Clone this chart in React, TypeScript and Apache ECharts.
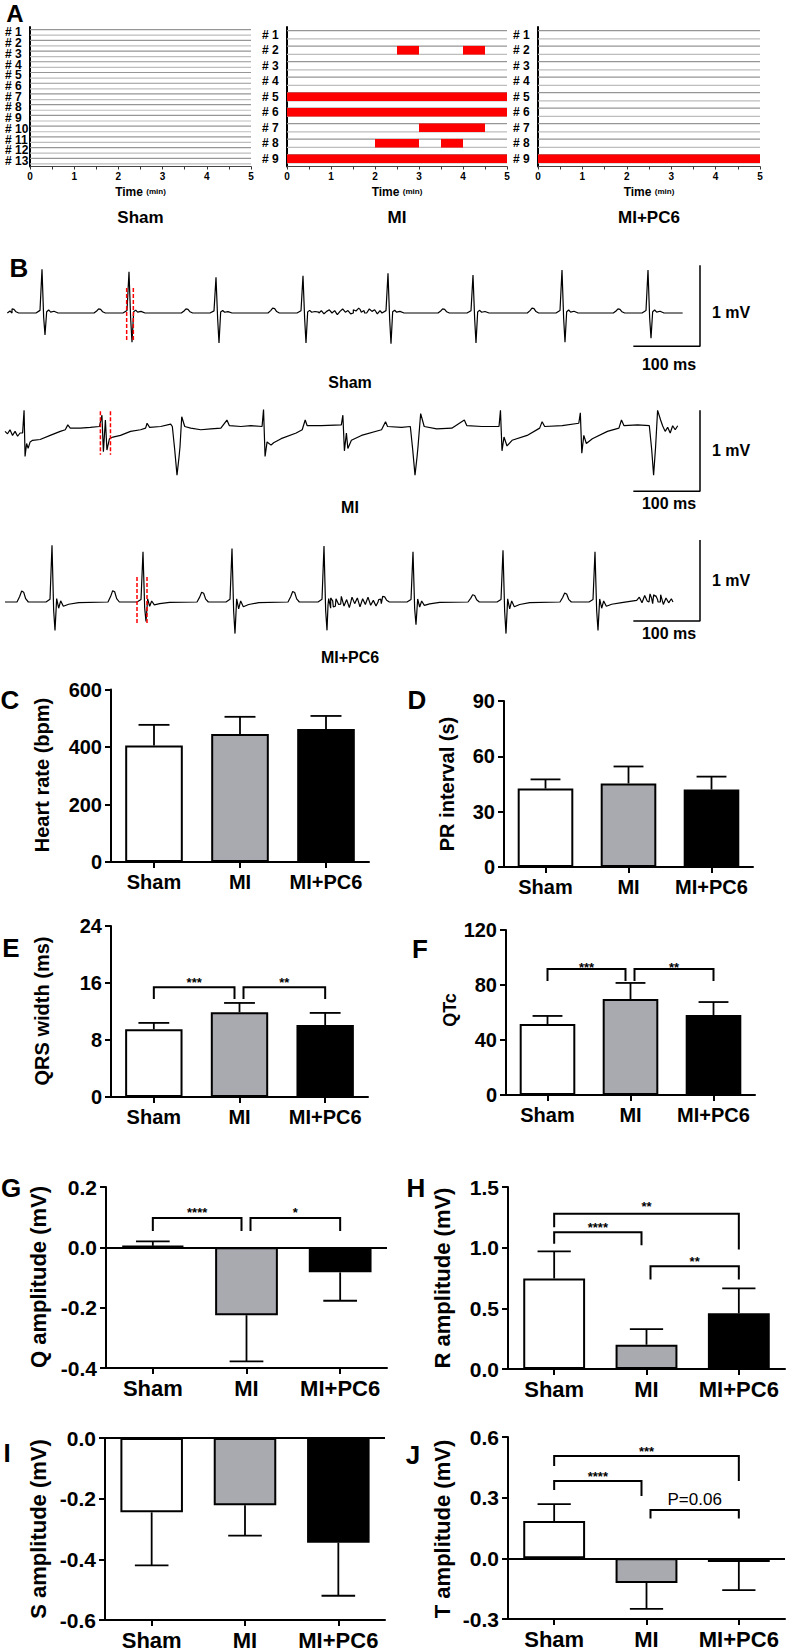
import React, { useEffect, useRef } from "react";
import * as echarts from "echarts";

const FONT = "'Liberation Sans', Arial, Helvetica, sans-serif";
const W = 787;
const H = 1651;

// ---------------- Panel A : arrhythmia raster ----------------
const SHAM_ROWS = ["# 1", "# 2", "# 3", "# 4", "# 5", "# 6", "# 7", "# 8", "# 9", "# 10", "# 11", "# 12", "# 13"];
const MI_ROWS = ["# 1", "# 2", "# 3", "# 4", "# 5", "# 6", "# 7", "# 8", "# 9"];
const PC6_ROWS = ["# 1", "# 2", "# 3", "# 4", "# 5", "# 6", "# 7", "# 8", "# 9"];
const TIME_MAX = 5;
const TIME_STEP = 0.5;
// [start (min), end (min), row index]
const SHAM_EVENTS: number[][] = [];
const MI_EVENTS = [
  [2.5, 3, 1], [4, 4.5, 1], [0, 5, 4], [0, 5, 5], [3, 4.5, 6], [2, 3, 7], [3.5, 4, 7], [0, 5, 8],
];
const PC6_EVENTS = [[0, 5, 8]];
const GROUPS = ["Sham", "MI", "MI+PC6"];

// ---------------- Panel B : ECG traces (ms, mV) ----------------
const SHAM_BEATS = [63, 193.5, 324, 454.5, 582, 709.5, 843, 972];
const SHAM_R = [0.54, 0.51, 0.44, 0.46, 0.49, 0.47, 0.53, 0.53];
const SHAM_S = [0.27, 0.36, 0.37, 0.37, 0.38, 0.37, 0.36, 0.31];
const SHAM_P = [20, 150, 281, 411, 539, 666, 800, 929];
const SHAM_P_AMP = [0.05, 0.05, 0.05, 0.06, 0.05, 0.05, 0.06, 0.05];
const SHAM_QRS = [
  [-9, 0, 0], [-3, 0.06, 0], [0, 1, 0], [2.5, 0, 0.2], [4.5, 0, 1], [7, 0.03, 0], [10, 0.07, 0], [13, 0.02, 0], [18, 0.04, 0], [24, 0, 0],
];
const SHAM_NOISE = [
  [478, 4, [0.01, 0.03, -0.01, 0.02, 0.04, 0.0, 0.03, -0.02, 0.02, 0.05, 0.01, 0.03, -0.01, 0.04, 0.02, 0.06, 0.01, 0.03, 0.0, 0.05, 0.02, 0.04, -0.01, 0.03]],
];

const PC6_BEATS = [78, 214.5, 348, 486, 619.5, 754.5, 892.5];
const PC6_R = [0.7, 0.62, 0.66, 0.69, 0.62, 0.64, 0.62];
const PC6_S = [0.35, 0.24, 0.39, 0.35, 0.28, 0.39, 0.35];
const PC6_P = [34.5, 171, 304.5, 441, 576, 711, 849, 982.5];
const PC6_P_AMP = [0.135, 0.14, 0.12, 0.13, 0.07, 0.09, 0.11, 0.09];
const PC6_QRS = [
  [-9, 0, 0], [-3, 0.05, 0], [0, 1, 0], [2.5, 0, 0.3], [4.5, 0, 1], [7, 0.06, 0], [10, 0, 0.22], [13, 0.02, 0], [17, 0, 0.15], [25, 0, 0.08], [40, 0, 0.02],
];
const PC6_NOISE = [
  [492, 4, [-0.04, 0.05, -0.06, 0.04, -0.03, 0.07, -0.05, 0.03, -0.07, 0.06, -0.02, 0.05, -0.06, 0.04, -0.03, 0.06, -0.04, 0.02, -0.05, 0.03, -0.02]],
  [955, 4, [0.02, 0.06, -0.01, 0.08, 0.01, 0.1, -0.02, 0.07, 0.0, 0.09, -0.03, 0.05, -0.01, 0.04]],
];
const P_SHAPE = [[-9, 0], [-5, 0.5], [-2, 1], [1, 0.9], [4, 0.3], [8, 0]];

const MI_TRACE = [
  [7.5, 0.02], [11.3, -0.01], [15, 0.04], [18.8, -0.03], [22.6, 0.02], [26.4, -0.04], [30.1, 0.0], [33.9, 0.0],
  [36.1, 0.28], [37.6, -0.29], [39.9, -0.13], [42.2, -0.19], [45.2, -0.11], [48.9, -0.09], [60.2, -0.08], [75.3, -0.03],
  [90.4, 0.02], [97.9, 0.04], [101.7, 0.1], [105.4, 0.06], [120.5, 0.06], [135.5, 0.07], [149.1, 0.08],
  [152.9, 0.22], [155.1, -0.23], [158.1, 0.16], [160.4, -0.21], [164.2, -0.07], [169.4, -0.05], [180.7, -0.03],
  [195.8, 0.02], [210.8, 0.04], [218.4, 0.06], [220.6, 0.12], [224.4, 0.07], [241, 0.08], [256, 0.11], [258.5, 0.08],
  [262, -0.2], [265.5, -0.52], [268.5, -0.3], [270, -0.17], [272.6, 0.2], [277.1, 0.08], [286.1, 0.06], [301.2, 0.04],
  [316.3, 0.05], [331.3, 0.06], [340.4, 0.16], [344.1, 0.09], [361.4, 0.08], [376.5, 0.09], [393.1, 0.08],
  [395.3, 0.29], [397.6, -0.29], [400.6, -0.11], [406.6, -0.15], [410.4, -0.12], [421.7, -0.07], [444.3, 0.0],
  [453.3, 0.04], [457.8, 0.16], [460.8, 0.09], [481.9, 0.09], [512, 0.1],
  [514.3, 0.22], [516.6, -0.22], [519.6, 0.0], [521.8, -0.19], [527.1, -0.09], [542.2, -0.03], [572.3, 0.04],
  [578.3, 0.14], [581.3, 0.08], [602.4, 0.07], [615.5, 0.08],
  [619, -0.2], [622.5, -0.52], [625.5, -0.3], [627, -0.17], [631, 0.24], [636.3, 0.08], [655.1, 0.05], [677.7, 0.06],
  [696.5, 0.16], [700.3, 0.09], [722.9, 0.08], [748.5, 0.08],
  [750.7, 0.28], [753, -0.22], [756, -0.05], [760.5, -0.16], [768.1, -0.09], [790.7, -0.03], [809.5, 0.06],
  [813.2, 0.14], [817, 0.08], [843.4, 0.09], [868.2, 0.12],
  [870.5, 0.25], [872.7, -0.25], [875.7, -0.03], [879.5, -0.13], [888.5, -0.07], [911.1, 0.02], [928.4, 0.06],
  [932.2, 0.16], [936, 0.09], [956.3, 0.1], [974, 0.09],
  [977.5, -0.2], [980.4, -0.52], [983.4, -0.17], [986.4, 0.28], [990.9, 0.16], [993.9, 0.09], [997.7, 0.02],
  [1001.5, 0.07], [1005.3, 0.0], [1009, 0.09], [1012.8, 0.04], [1016.6, 0.09],
];

// highlighted QRS windows [t0, t1, top mV, bottom mV]
const SHAM_QRS_WINDOW = [190, 200, 0.31, -0.35];
const MI_QRS_WINDOW = [150.6, 165.7, 0.27, -0.27];
const PC6_QRS_WINDOW = [205.5, 220.5, 0.31, -0.26];
const SCALE_MS = 100;
const SCALE_MV = 1;

// ---------------- Panels C-J : group means and SEM ----------------
const HEART_RATE = [405, 445, 463];
const HEART_RATE_SEM = [72, 60, 45];
const PR_INTERVAL = [42.5, 45.3, 42];
const PR_INTERVAL_SEM = [5, 9.2, 7];
const QRS_WIDTH = [9.5, 11.9, 10.1];
const QRS_WIDTH_SEM = [0.9, 1.3, 1.7];
const QTC = [51.6, 69.8, 58.2];
const QTC_SEM = [5.9, 11.7, 9.4];
const Q_AMP = [0.005, -0.225, -0.083];
const Q_AMP_SEM = [0.015, 0.153, 0.094];
const R_AMP = [0.746, 0.2, 0.459];
const R_AMP_SEM = [0.224, 0.128, 0.205];
const S_AMP = [-0.245, -0.222, -0.345];
const S_AMP_SEM = [0.175, 0.1, 0.175];
const T_AMP = [0.184, -0.122, -0.018];
const T_AMP_SEM = [0.084, 0.128, 0.139];

// significance brackets: from group a to group b, bar height y, drop ends ya / yb, label, label height
const QRS_SIG = [
  { a: 0, b: 1, y: 15.4, ya: 13.75, yb: 13.75, text: "***", ty: 16.6 },
  { a: 1, b: 2, y: 15.4, ya: 13.75, yb: 13.75, text: "**", ty: 16.6 },
];
const QTC_SIG = [
  { a: 0, b: 1, y: 91.6, ya: 82.9, yb: 82.9, text: "***", ty: 96 },
  { a: 1, b: 2, y: 91.6, ya: 82.9, yb: 82.9, text: "**", ty: 96 },
];
const Q_SIG = [
  { a: 0, b: 1, y: 0.097, ya: 0.054, yb: 0.054, text: "****", ty: 0.13 },
  { a: 1, b: 2, y: 0.097, ya: 0.054, yb: 0.054, text: "*", ty: 0.13 },
];
const R_SIG = [
  { a: 0, b: 2, y: 1.279, ya: 1.169, yb: 0.984, text: "**", ty: 1.374 },
  { a: 0, b: 1, y: 1.128, ya: 1.033, yb: 1.019, text: "****", ty: 1.197 },
  { a: 1, b: 2, y: 0.847, ya: 0.738, yb: 0.738, text: "**", ty: 0.918 },
];
const T_SIG = [
  { a: 0, b: 2, y: 0.506, ya: 0.456, yb: 0.382, text: "***", ty: 0.548 },
  { a: 0, b: 1, y: 0.382, ya: 0.338, yb: 0.308, text: "****", ty: 0.424 },
  { a: 1, b: 2, y: 0.239, ya: 0.197, yb: 0.197, text: "P=0.06", ty: 0.29 },
];

const BAR_COLORS = ["#ffffff", "#a9a9b0", "#000000"];

// ---------------- layout ----------------
const PX_PER_MS = 2 / 3;
const PX_PER_MV = 81;
const TRACE_MS_MAX = 1100;
const SCALE_X = 1050;

function composeTrace(beats: number[], r: number[], s: number[], qrs: number[][], p: number[], pAmp: number[], noise: any[], start: number, end: number) {
  const pts: number[][] = [[start, 0], [end, 0]];
  beats.forEach((t, i) => qrs.forEach(([dt, a, b]) => pts.push([t + dt, a * r[i] - b * s[i]])));
  p.forEach((t, i) => P_SHAPE.forEach(([dt, f]) => pts.push([t + dt, f * pAmp[i]])));
  noise.forEach(([t0, step, vals]: any) => vals.forEach((v: number, k: number) => pts.push([t0 + k * step, v])));
  pts.sort((u, v) => u[0] - v[0]);
  return pts;
}

function txt(x: number, y: number, text: string, font: string, align = "center", rotation = 0, fill = "#000") {
  return {
    type: "text",
    x,
    y,
    rotation,
    silent: true,
    style: { text, font, fill, align, textAlign: align, verticalAlign: "middle", textVerticalAlign: "middle" },
  };
}

function buildOption() {
  const opt: any = {
    animation: false,
    backgroundColor: "#ffffff",
    grid: [],
    xAxis: [],
    yAxis: [],
    series: [],
    graphic: { elements: [] as any[] },
  };
  const G = opt.graphic.elements;

  // ---------- Panel A ----------
  const rowLines = (params: any, api: any) => {
    const row = api.value(1);
    const a = api.coord([0, row]);
    const b = api.coord([TIME_MAX, row]);
    const band = api.size([0, 1])[1];
    const off = band * 0.26;
    return {
      type: "group",
      children: [
        { type: "line", shape: { x1: a[0], y1: a[1] - off, x2: b[0], y2: b[1] - off }, style: { stroke: "#969696", lineWidth: 1.2 } },
        { type: "line", shape: { x1: a[0], y1: a[1] + off, x2: b[0], y2: b[1] + off }, style: { stroke: "#bdbdbd", lineWidth: 1.2 } },
      ],
    };
  };
  const eventRect = (params: any, api: any) => {
    const s = api.value(0);
    const e = api.value(1);
    const row = api.value(2);
    const a = api.coord([s, row]);
    const b = api.coord([e, row]);
    const band = api.size([0, 1])[1];
    const h = band * 0.56;
    return { type: "rect", shape: { x: a[0], y: a[1] - h / 2, width: b[0] - a[0], height: h }, style: { fill: "#ff0000" } };
  };
  const addRaster = (rows: string[], events: number[][], g: any, label: string) => {
    const gi = opt.grid.length;
    opt.grid.push({ left: g.left, top: g.top, width: g.width, height: g.height });
    opt.xAxis.push({
      gridIndex: gi,
      type: "value",
      min: 0,
      max: TIME_MAX,
      interval: TIME_STEP,
      axisLine: { show: true, onZero: false, lineStyle: { color: "#444", width: 1.2 } },
      axisTick: { show: true, length: 3, lineStyle: { color: "#333", width: 1 } },
      axisLabel: {
        color: "#000",
        fontFamily: FONT,
        fontWeight: "bold",
        fontSize: 10,
        margin: 5,
        formatter: (v: number) => (Number.isInteger(v) ? String(v) : ""),
      },
      splitLine: { show: false },
      name: "{a|Time} {b|(min)}",
      nameLocation: "middle",
      nameGap: 19,
      nameTextStyle: {
        rich: {
          a: { fontFamily: FONT, fontWeight: "bold", fontSize: 12, color: "#000" },
          b: { fontFamily: FONT, fontWeight: "bold", fontSize: 8, color: "#000" },
        },
      },
    });
    opt.yAxis.push({
      gridIndex: gi,
      type: "category",
      data: rows,
      inverse: true,
      axisLine: { show: true, lineStyle: { color: "#000", width: 2 } },
      axisTick: { show: false },
      axisLabel: { color: "#000", fontFamily: FONT, fontWeight: "bold", fontSize: 12, align: "left", margin: 25, interval: 0 },
      splitLine: { show: false },
    });
    opt.series.push({
      type: "custom",
      xAxisIndex: gi,
      yAxisIndex: gi,
      silent: true,
      data: rows.map((_, k) => [0, k]),
      encode: { x: 0, y: 1 },
      renderItem: rowLines,
    });
    opt.series.push({
      type: "custom",
      xAxisIndex: gi,
      yAxisIndex: gi,
      silent: true,
      data: events,
      encode: { x: [0, 1], y: 2 },
      renderItem: eventRect,
    });
    G.push(txt(g.left + g.width / 2, 217, label, `bold 17px ${FONT}`));
  };
  addRaster(SHAM_ROWS, SHAM_EVENTS, { left: 30, top: 27, width: 221, height: 139.5 }, GROUPS[0]);
  addRaster(MI_ROWS, MI_EVENTS, { left: 287, top: 27, width: 220, height: 139.5 }, GROUPS[1]);
  addRaster(PC6_ROWS, PC6_EVENTS, { left: 538, top: 27, width: 222, height: 139.5 }, GROUPS[2]);

  // ---------- Panel B ----------
  const addTrace = (pts: number[][], baseline: number, yMin: number, yMax: number, win: number[], scaleTop: number, label: string, labelY: number, mvY: number, msY: number) => {
    const gi = opt.grid.length;
    opt.grid.push({ left: 0, top: baseline - yMax * PX_PER_MV, width: TRACE_MS_MAX * PX_PER_MS, height: (yMax - yMin) * PX_PER_MV });
    opt.xAxis.push({ gridIndex: gi, type: "value", min: 0, max: TRACE_MS_MAX, show: false });
    opt.yAxis.push({ gridIndex: gi, type: "value", min: yMin, max: yMax, show: false });
    opt.series.push({
      type: "line",
      xAxisIndex: gi,
      yAxisIndex: gi,
      data: pts,
      showSymbol: false,
      silent: true,
      clip: false,
      lineStyle: { color: "#000", width: 1.2 },
    });
    [win[0], win[1]].forEach((t) =>
      opt.series.push({
        type: "line",
        xAxisIndex: gi,
        yAxisIndex: gi,
        data: [[t, win[2]], [t, win[3]]],
        showSymbol: false,
        silent: true,
        clip: false,
        lineStyle: { color: "#ff0000", width: 1.5, type: [4, 2] },
      })
    );
    opt.series.push({
      type: "line",
      xAxisIndex: gi,
      yAxisIndex: gi,
      data: [
        [SCALE_X, scaleTop],
        [SCALE_X, scaleTop - SCALE_MV],
        [SCALE_X - SCALE_MS, scaleTop - SCALE_MV],
      ],
      showSymbol: false,
      silent: true,
      clip: false,
      lineStyle: { color: "#000", width: 1.5 },
    });
    G.push(txt(712, mvY, "1 mV", `bold 16px ${FONT}`, "left"));
    G.push(txt(669, msY, "100 ms", `bold 16px ${FONT}`));
    G.push(txt(350, labelY, label, `bold 16px ${FONT}`));
  };
  addTrace(
    composeTrace(SHAM_BEATS, SHAM_R, SHAM_S, SHAM_QRS, SHAM_P, SHAM_P_AMP, SHAM_NOISE, 18, 1024),
    313, -0.6, 0.8, SHAM_QRS_WINDOW, 0.59, GROUPS[0], 382, 312, 364
  );
  addTrace(MI_TRACE, 433, -0.8, 0.5, MI_QRS_WINDOW, 0.28, GROUPS[1], 507, 450, 503);
  addTrace(
    composeTrace(PC6_BEATS, PC6_R, PC6_S, PC6_QRS, PC6_P, PC6_P_AMP, PC6_NOISE, 7.5, 1009.5),
    602, -0.5, 0.9, PC6_QRS_WINDOW, 0.765, GROUPS[2], 657, 580, 633
  );

  // ---------- Bar panels ----------
  const addBarPanel = (p: any) => {
    const gi = opt.grid.length;
    opt.grid.push(p.grid);
    opt.xAxis.push({
      gridIndex: gi,
      type: "category",
      data: GROUPS,
      axisLine: { show: true, onZero: false, lineStyle: { color: "#000", width: 2 } },
      axisTick: { show: true, alignWithLabel: true, length: 6, lineStyle: { color: "#000", width: 2 } },
      axisLabel: { color: "#000", fontFamily: FONT, fontWeight: "bold", fontSize: p.catFont, margin: p.catMargin, interval: 0 },
      splitLine: { show: false },
    });
    opt.yAxis.push({
      gridIndex: gi,
      type: "value",
      min: p.min,
      max: p.max,
      interval: p.interval,
      axisLine: { show: true, onZero: false, lineStyle: { color: "#000", width: 2 } },
      axisTick: { show: true, length: 6, lineStyle: { color: "#000", width: 2 } },
      axisLabel: {
        color: "#000",
        fontFamily: FONT,
        fontWeight: "bold",
        fontSize: p.tickFont,
        margin: 9,
        formatter: (v: number) => (p.decimals ? v.toFixed(p.decimals) : String(Math.round(v))),
      },
      splitLine: { show: false },
    });
    const bar: any = {
      type: "bar",
      xAxisIndex: gi,
      yAxisIndex: gi,
      barWidth: "67%",
      silent: true,
      data: p.values.map((v: number, i: number) => ({
        value: v,
        itemStyle: { color: BAR_COLORS[i], borderColor: "#000", borderWidth: 2 },
      })),
      z: 2,
    };
    if (p.zeroLine) {
      bar.markLine = {
        silent: true,
        symbol: ["none", "none"],
        label: { show: false },
        lineStyle: { color: "#000", width: 2, type: "solid" },
        data: [{ yAxis: 0 }],
      };
    }
    opt.series.push(bar);
    opt.series.push({
      type: "custom",
      xAxisIndex: gi,
      yAxisIndex: gi,
      silent: true,
      z: 3,
      data: p.values.map((v: number, i: number) => [i, v, v + (v < 0 ? -1 : 1) * p.sem[i]]),
      encode: { x: 0, y: [1, 2] },
      renderItem: (params: any, api: any) => {
        const i = api.value(0);
        const a = api.coord([i, api.value(1)]);
        const b = api.coord([i, api.value(2)]);
        const half = api.size([1, 0])[0] * 0.18;
        return {
          type: "group",
          children: [
            { type: "line", shape: { x1: a[0], y1: a[1], x2: b[0], y2: b[1] }, style: { stroke: "#000", lineWidth: 1.8 } },
            { type: "line", shape: { x1: b[0] - half, y1: b[1], x2: b[0] + half, y2: b[1] }, style: { stroke: "#000", lineWidth: 1.8 } },
          ],
        };
      },
    });
    if (p.sig) {
      const sig = p.sig;
      opt.series.push({
        type: "custom",
        xAxisIndex: gi,
        yAxisIndex: gi,
        silent: true,
        z: 4,
        data: sig.map(() => [0, p.min]),
        encode: { x: 0, y: 1 },
        renderItem: (params: any, api: any) => {
          const s = sig[params.dataIndex];
          const aOff = s.a === 1 ? 4 : 0;
          const bOff = s.b === 1 ? -5 : 0;
          const pa = api.coord([s.a, s.y]);
          const pb = api.coord([s.b, s.y]);
          const xa = pa[0] + aOff;
          const xb = pb[0] + bOff;
          const ya = api.coord([s.a, s.ya])[1];
          const yb = api.coord([s.b, s.yb])[1];
          const ty = api.coord([s.a, s.ty])[1];
          const plain = s.text.indexOf("*") < 0;
          return {
            type: "group",
            children: [
              {
                type: "polyline",
                shape: { points: [[xa, ya], [xa, pa[1]], [xb, pa[1]], [xb, yb]] },
                style: { stroke: "#000", lineWidth: 2, fill: "none" },
              },
              {
                type: "text",
                x: (xa + xb) / 2,
                y: ty + (plain ? 0 : 4),
                style: {
                  text: s.text,
                  font: plain ? `17px ${FONT}` : `bold 13px ${FONT}`,
                  fill: "#000",
                  align: "center",
                  verticalAlign: "middle",
                  textAlign: "center",
                  textVerticalAlign: "middle",
                },
              },
            ],
          };
        },
      });
    }
    G.push(txt(p.title[0], p.title[1], p.title[2], `bold ${p.titleFont}px ${FONT}`, "center", Math.PI / 2));
    G.push(txt(p.letter[0], p.letter[1], p.letter[2], `bold 26px ${FONT}`));
  };

  addBarPanel({
    grid: { left: 111, top: 689.5, width: 258, height: 172.5 },
    min: 0, max: 600, interval: 200, values: HEART_RATE, sem: HEART_RATE_SEM,
    catFont: 20, catMargin: 10, tickFont: 20, titleFont: 20,
    title: [42, 775, "Heart rate (bpm)"], letter: [10, 700, "C"],
  });
  addBarPanel({
    grid: { left: 504, top: 701, width: 249, height: 166 },
    min: 0, max: 90, interval: 30, values: PR_INTERVAL, sem: PR_INTERVAL_SEM,
    catFont: 20, catMargin: 10, tickFont: 20, titleFont: 20,
    title: [447, 784, "PR interval (s)"], letter: [417, 700, "D"],
  });
  addBarPanel({
    grid: { left: 111, top: 926, width: 257, height: 171 },
    min: 0, max: 24, interval: 8, values: QRS_WIDTH, sem: QRS_WIDTH_SEM, sig: QRS_SIG,
    catFont: 20, catMargin: 10, tickFont: 20, titleFont: 20,
    title: [42, 1011, "QRS width (ms)"], letter: [11, 948, "E"],
  });
  addBarPanel({
    grid: { left: 506, top: 930, width: 249, height: 165 },
    min: 0, max: 120, interval: 40, values: QTC, sem: QTC_SEM, sig: QTC_SIG,
    catFont: 20, catMargin: 10, tickFont: 20, titleFont: 18,
    title: [450, 1010, "QTc"], letter: [420, 949, "F"],
  });
  addBarPanel({
    grid: { left: 106, top: 1187, width: 281, height: 181 },
    min: -0.4, max: 0.2, interval: 0.2, decimals: 1, values: Q_AMP, sem: Q_AMP_SEM, sig: Q_SIG, zeroLine: true,
    catFont: 22, catMargin: 9, tickFont: 21, titleFont: 22,
    title: [38, 1277, "Q amplitude (mV)"], letter: [11, 1188, "G"],
  });
  addBarPanel({
    grid: { left: 508, top: 1187, width: 277, height: 182 },
    min: 0, max: 1.5, interval: 0.5, decimals: 1, values: R_AMP, sem: R_AMP_SEM, sig: R_SIG,
    catFont: 22, catMargin: 9, tickFont: 21, titleFont: 22,
    title: [442, 1278, "R amplitude (mV)"], letter: [416, 1188, "H"],
  });
  addBarPanel({
    grid: { left: 105, top: 1438, width: 280, height: 182 },
    min: -0.6, max: 0, interval: 0.2, decimals: 1, values: S_AMP, sem: S_AMP_SEM, zeroLine: true,
    catFont: 22, catMargin: 9, tickFont: 21, titleFont: 22,
    title: [38, 1529, "S amplitude (mV)"], letter: [7, 1453, "I"],
  });
  addBarPanel({
    grid: { left: 508, top: 1437, width: 277, height: 182 },
    min: -0.3, max: 0.6, interval: 0.3, decimals: 1, values: T_AMP, sem: T_AMP_SEM, sig: T_SIG, zeroLine: true,
    catFont: 22, catMargin: 9, tickFont: 21, titleFont: 22,
    title: [442, 1529, "T amplitude (mV)"], letter: [413, 1455, "J"],
  });

  // panel letters A, B
  G.push(txt(15, 13, "A", `bold 24px ${FONT}`));
  G.push(txt(19, 268, "B", `bold 26px ${FONT}`));
  return opt;
}

export default function App() {
  const ref = useRef<HTMLDivElement>(null);
  useEffect(() => {
    if (!ref.current) return;
    const chart = echarts.init(ref.current, undefined, { renderer: "svg" });
    chart.setOption(buildOption());
    return () => chart.dispose();
  }, []);
  return (
    <div
      ref={ref}
      style={{ position: "absolute", left: 0, top: 0, width: W, height: H, background: "#ffffff" }}
    />
  );
}
